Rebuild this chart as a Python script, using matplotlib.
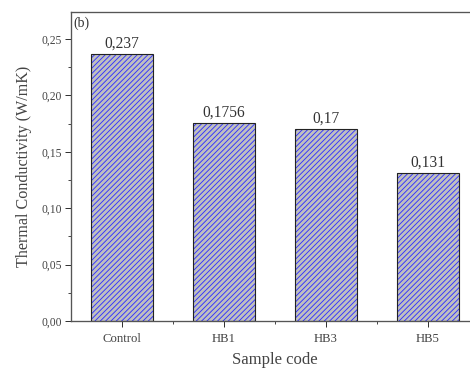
import numpy as np
import matplotlib
matplotlib.use("Agg")
from matplotlib import pyplot as plt
from matplotlib import ticker as mticker

# Data
samples = ["Control", "HB1", "HB3", "HB5"]
conductivity = [0.237, 0.1756, 0.17, 0.131]
value_labels = ["0,237", "0,1756", "0,17", "0,131"]

plt.rcParams["font.family"] = ["Liberation Serif", "DejaVu Serif"]
plt.rcParams["hatch.linewidth"] = 0.8

DPI = 80
fig = plt.figure(figsize=(470 / DPI, 369 / DPI), dpi=DPI)
ax = fig.add_axes([71 / 470, 1 - 321 / 369, 408 / 470, 309 / 369])

x = np.arange(len(samples))
# hatched fill (blue lines on grey), then black outline on top
ax.bar(x, conductivity, width=0.6, color="#c0c0c0",
       edgecolor="#3030ff", linewidth=0, hatch="/////")
ax.bar(x, conductivity, width=0.6, fill=False,
       edgecolor="#222222", linewidth=1.0)

for xi, val, lab in zip(x, conductivity, value_labels):
    ax.text(xi, val + 0.002, lab, ha="center", va="bottom",
            fontsize=14, color="#333333")

ax.set_xlim(-0.5, 3.5)
ax.set_ylim(0, 0.274)
ax.set_xticks(x)
ax.set_xticklabels(samples)
ax.xaxis.set_minor_locator(mticker.FixedLocator([0.5, 1.5, 2.5]))
ax.yaxis.set_major_locator(mticker.MultipleLocator(0.05))
ax.yaxis.set_minor_locator(mticker.MultipleLocator(0.025))
ax.yaxis.set_major_formatter(
    mticker.FuncFormatter(lambda v, p: "{:.2f}".format(v).replace(".", ",")))

ax.tick_params(which="major", direction="out", length=5, width=0.9,
               color="#333333", labelsize=10.5, labelcolor="#444444")
ax.tick_params(which="minor", direction="out", length=3, width=0.8,
               color="#333333")
ax.tick_params(axis="x", pad=6, labelsize=11.5)

for s in ax.spines.values():
    s.set_color("#555555")
    s.set_linewidth(1.2)

ax.set_ylabel("Thermal Conductivity (W/mK)", fontsize=14.5, color="#444444",
              labelpad=8)
ax.set_xlabel("Sample code", fontsize=15, color="#444444", labelpad=6)
ax.text(0.005, 0.985, "(b)", transform=ax.transAxes, ha="left", va="top",
        fontsize=12.5, color="#333333")

fig.savefig("out.png", dpi=DPI)
